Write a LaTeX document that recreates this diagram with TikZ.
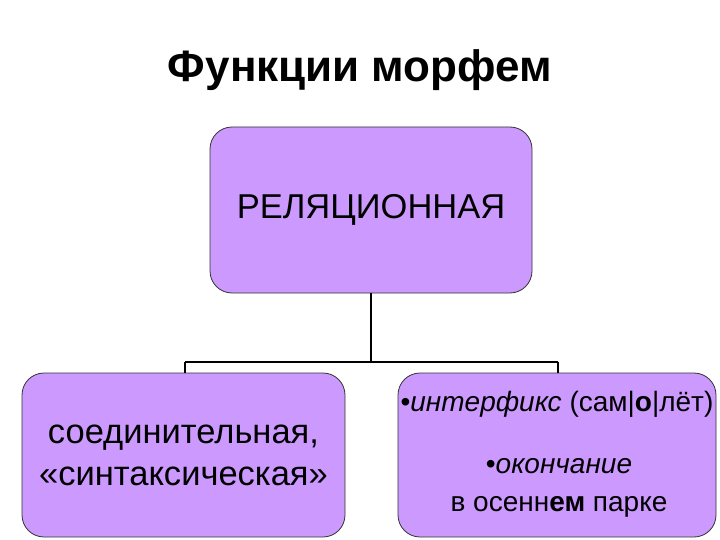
\documentclass[tikz,border=0pt]{standalone}
\usepackage{fontspec}
\setmainfont{Liberation Sans}
\begin{document}
\begin{tikzpicture}[x=1pt,y=-1pt,
  box/.style={draw=black!80,line width=0.8pt,fill=boxc,rounded corners=22pt,align=center,font=\fontsize{34.5}{42}\selectfont,inner sep=0pt},
  conn/.style={draw=black,line width=1.5pt}]
\definecolor{boxc}{HTML}{CC99FF}
\useasboundingbox (0,0) rectangle (720,540);
\node[font=\fontsize{44}{50}\selectfont\bfseries] (title) at (360,70) {Функции морфем};
\node[box,minimum width=322pt,minimum height=166pt] (top) at (371,210) {РЕЛЯЦИОННАЯ};
\node[box,minimum width=323pt,minimum height=164pt] (left) at (183.5,455) {соединительная,\\«синтаксическая»};
\node[box,minimum width=318pt,minimum height=164pt] (right) at (557,455) {};
\node[font=\fontsize{28}{34}\selectfont] (r1) at (557,404) {•\textit{интерфикс} (сам|\textbf{о}|лёт)};
\node[font=\fontsize{28}{38}\selectfont,align=center] (r2) at (559,488) {•\textit{окончание}\\в осенн\textbf{ем} парке};
\coordinate (j) at (371,362);
\coordinate (jl) at (185,362);
\coordinate (jr) at (558,362);
\draw[conn] (top.south) -- (j);
\draw[conn] (jl) -- (jr);
\draw[conn] (jl) -- (jl|-left.north);
\draw[conn] (jr) -- (jr|-right.north);
\end{tikzpicture}
\end{document}
